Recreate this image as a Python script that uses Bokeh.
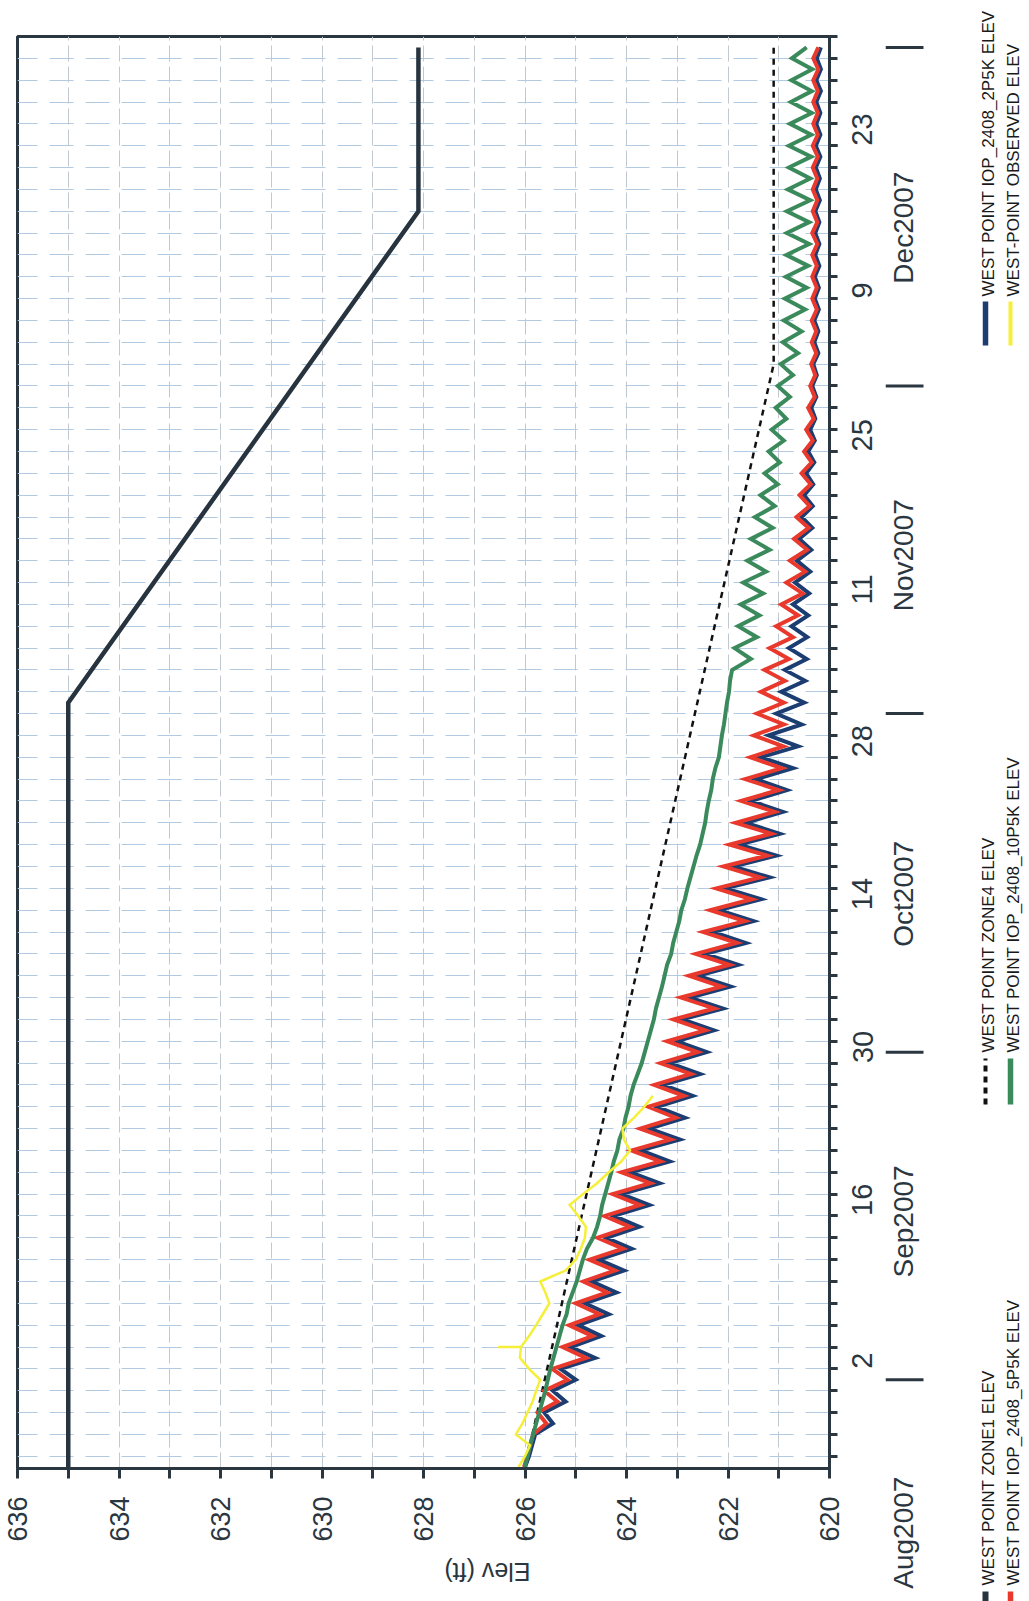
import math
import pandas as pd
from bokeh.plotting import figure
from bokeh.models import Range1d, FixedTicker
from bokeh.layouts import row, column
from bokeh.embed import file_html
from bokeh.resources import INLINE
from bokeh.core.properties import value

# ---------------------------------------------------------------- data
START = pd.Timestamp("2007-08-24")
daily = pd.date_range("2007-08-24", "2008-01-01", freq="D")

# guide curves (break points)
zone1_dates = ["2007-08-24", "2007-11-02", "2007-12-17", "2008-01-01"]
zone1_elev = [635.0, 635.0, 628.1, 628.1]
zone4_dates = ["2007-08-24", "2007-12-03", "2008-01-01"]
zone4_elev = [626.0, 621.1, 621.1]

# simulated daily pool elevations, 24 Aug 2007 .. 1 Jan 2008
iop_2p5k = [
    626.00, 625.92, 625.86, 625.80,
    625.45, 625.62, 625.20, 625.45, 625.00, 625.30,
    624.62, 625.10, 624.50, 624.95, 624.35, 624.82, 624.20, 624.68, 624.05, 624.55,
    623.90, 624.40, 623.75, 624.25, 623.55, 624.10, 623.35, 623.92, 623.15, 623.72,
    622.95, 623.55, 622.85, 623.40, 622.70, 623.28, 622.55, 623.15, 622.42, 623.02,
    622.28, 622.90, 622.10, 622.75, 621.95, 622.60, 621.80, 622.45, 621.65, 622.30,
    621.50, 622.18, 621.35, 622.05, 621.18, 621.90, 621.05, 621.78, 620.98, 621.65,
    620.92, 621.55, 620.84, 621.45, 620.72, 621.35, 620.62, 621.20, 620.55, 621.05,
    620.50, 620.95, 620.48, 620.88, 620.45, 620.80, 620.44, 620.75, 620.42, 620.72,
    620.40, 620.68, 620.38, 620.64, 620.36, 620.60, 620.34, 620.55, 620.33, 620.50,
    620.32, 620.46, 620.30, 620.42, 620.29, 620.38, 620.28, 620.36, 620.26, 620.34,
    620.25, 620.32, 620.22, 620.30, 620.22, 620.30, 620.21, 620.29, 620.21, 620.29,
    620.20, 620.28, 620.20, 620.28, 620.20, 620.28, 620.19, 620.27, 620.19, 620.27,
    620.18, 620.27, 620.18, 620.26, 620.18, 620.26, 620.17, 620.26, 620.17, 620.25,
    620.17,
]
iop_5p5k = [
    626.02, 625.95, 625.90, 625.84,
    625.58, 625.75, 625.36, 625.62, 625.16, 625.46,
    624.80, 625.26, 624.67, 625.13, 624.53, 625.00, 624.38, 624.85, 624.23, 624.73,
    624.07, 624.57, 623.93, 624.43, 623.73, 624.27, 623.53, 624.10, 623.33, 623.90,
    623.13, 623.73, 623.03, 623.57, 622.87, 623.45, 622.73, 623.33, 622.60, 623.20,
    622.45, 623.07, 622.27, 622.93, 622.13, 622.77, 621.97, 622.63, 621.83, 622.49,
    621.67, 622.35, 621.53, 622.23, 621.37, 622.09, 621.23, 621.97, 621.15, 621.85,
    621.08, 621.74, 621.00, 621.66, 620.94, 621.56, 620.91, 621.49, 620.90, 621.43,
    620.90, 621.35, 620.88, 621.28, 620.80, 621.18, 620.72, 621.05, 620.62, 620.95,
    620.53, 620.85, 620.48, 620.78, 620.44, 620.70, 620.41, 620.65, 620.39, 620.59,
    620.37, 620.55, 620.35, 620.50, 620.33, 620.46, 620.31, 620.42, 620.29, 620.38,
    620.28, 620.36, 620.26, 620.35, 620.26, 620.35, 620.25, 620.34, 620.25, 620.34,
    620.25, 620.34, 620.24, 620.34, 620.24, 620.33, 620.24, 620.33, 620.24, 620.33,
    620.23, 620.33, 620.23, 620.32, 620.23, 620.32, 620.23, 620.32, 620.22, 620.32,
    620.22,
]
iop_10p5k = [
    626.00, 625.95, 625.90, 625.84, 625.78, 625.72, 625.66, 625.60, 625.55, 625.50,
    625.44, 625.38, 625.32, 625.26, 625.18, 625.14, 625.06, 624.98, 624.92, 624.86,
    624.78, 624.66, 624.58, 624.52, 624.48, 624.42, 624.36, 624.30, 624.25, 624.18,
    624.14, 624.06, 624.02, 623.96, 623.92, 623.86, 623.78, 623.70, 623.64, 623.58,
    623.52, 623.46, 623.42, 623.36, 623.30, 623.25, 623.20, 623.12, 623.08, 623.02,
    622.96, 622.92, 622.85, 622.80, 622.74, 622.68, 622.62, 622.55, 622.50, 622.45,
    622.42, 622.38, 622.33, 622.30, 622.25, 622.18, 622.15, 622.12, 622.08, 622.05,
    622.02, 621.98, 621.96, 621.92, 621.55, 621.87, 621.43, 621.80, 621.38, 621.75,
    621.31, 621.70, 621.25, 621.62, 621.18, 621.55, 621.12, 621.47, 621.08, 621.36,
    621.02, 621.28, 620.98, 621.20, 620.90, 621.14, 620.85, 621.06, 620.78, 621.02,
    620.72, 620.96, 620.62, 620.92, 620.55, 620.90, 620.48, 620.88, 620.45, 620.86,
    620.42, 620.85, 620.40, 620.84, 620.40, 620.84, 620.38, 620.82, 620.38, 620.80,
    620.36, 620.80, 620.36, 620.78, 620.35, 620.76, 620.35, 620.75, 620.34, 620.74,
    620.45,
]

# observed pool elevation (record ends late September)
obs_dates = [
    "2007-08-24", "2007-08-25", "2007-08-26", "2007-08-27", "2007-08-28",
    "2007-08-29", "2007-08-30", "2007-08-31", "2007-09-01", "2007-09-02",
    "2007-09-03", "2007-09-04", "2007-09-04", "2007-09-04", "2007-09-05",
    "2007-09-06", "2007-09-07", "2007-09-08", "2007-09-09", "2007-09-10",
    "2007-09-11", "2007-09-12", "2007-09-13", "2007-09-14", "2007-09-15",
    "2007-09-16", "2007-09-17", "2007-09-18", "2007-09-19", "2007-09-20",
    "2007-09-21", "2007-09-22", "2007-09-23", "2007-09-24", "2007-09-25",
    "2007-09-26", "2007-09-27",
]
obs_elev = [
    626.13, 626.00, 625.90, 626.18, 626.05,
    625.95, 625.85, 625.78, 625.70, 625.92,
    626.10, 626.08, 626.53, 626.08, 625.92,
    625.78, 625.65, 625.52, 625.60, 625.70,
    625.20, 625.00, 624.90, 624.82, 624.80,
    624.95, 625.12, 624.86, 624.58, 624.35,
    624.10, 623.93, 624.05, 624.08, 623.85,
    623.65, 623.48,
]

# axis annotation
elev_ticks = [620, 622, 624, 626, 628, 630, 632, 634, 636]
elev_minor = [621, 623, 625, 627, 629, 631, 633, 635]
day_tick_dates = ["2007-09-02", "2007-09-16", "2007-09-30", "2007-10-14", "2007-10-28",
                  "2007-11-11", "2007-11-25", "2007-12-09", "2007-12-23"]
day_tick_labels = ["2", "16", "30", "14", "28", "11", "25", "9", "23"]
month_starts = ["2007-09-01", "2007-10-01", "2007-11-01", "2007-12-01", "2008-01-01"]
month_label_dates = ["2007-08-18 00:00", "2007-09-15 12:00", "2007-10-15 12:00",
                     "2007-11-15 12:00", "2007-12-15 12:00"]
month_labels = ["Aug2007", "Sep2007", "Oct2007", "Nov2007", "Dec2007"]

series = [
    # name, color, width, dash
    ("WEST POINT ZONE1 ELEV", "#27343f", 4.5, "solid"),
    ("WEST POINT IOP_2408_5P5K ELEV", "#e8392c", 4, "solid"),
    ("WEST POINT ZONE4 ELEV", "#111111", 2.5, "6 5"),
    ("WEST POINT IOP_2408_10P5K ELEV", "#3b8a5c", 4, "solid"),
    ("WEST POINT IOP_2408_2P5K ELEV", "#1c3d72", 4, "solid"),
    ("WEST-POINT OBSERVED ELEV", "#f6ef3a", 2.5, "solid"),
]


def to_day(t):
    """Days elapsed since the start of the plotted period."""
    return list((pd.to_datetime(t) - START) / pd.Timedelta(days=1))


def to_day1(t):
    return (pd.Timestamp(t) - START) / pd.Timedelta(days=1)


INK = "#2a3640"
FONT = "Liberation Sans"
NBSP = "\u00a0"

# page geometry
PAGE_W, PAGE_H = 1029, 1601
LEFT, TOP, FRAME_W, FRAME_H, RIGHT, BOTTOM = 17, 36, 812, 1432, 56, 133
Y_LO, Y_HI = to_day1("2007-08-23 21:00"), to_day1("2008-01-02 00:00")
PX_PER_DAY = FRAME_H / (Y_HI - Y_LO)

day_all = to_day(daily)

# ---------------------------------------------------------------- main plot (drawn turned a quarter turn)
p = figure(
    x_range=Range1d(636, 620),
    y_range=Range1d(Y_LO, Y_HI),
    frame_width=FRAME_W, frame_height=FRAME_H,
    min_border_left=LEFT, min_border_top=TOP, min_border_right=RIGHT, min_border_bottom=BOTTOM,
    x_axis_location="below", y_axis_location="right",
    output_backend="svg", toolbar_location=None,
    background_fill_color="white", border_fill_color="white",
)
p.outline_line_color = INK
p.outline_line_width = 3

# grid
p.xgrid.ticker = FixedTicker(ticks=list(range(621, 636)))
p.xgrid.grid_line_color = "#c2c8cf"
p.xgrid.grid_line_width = 1
p.xgrid.grid_line_dash = "16 5"
p.ygrid.ticker = FixedTicker(ticks=list(range(1, 131, 2)))
p.ygrid.grid_line_color = "#b2cbe2"
p.ygrid.grid_line_width = 1
p.ygrid.grid_line_dash = "24 12"

# elevation axis; its title reads upside down with the turned chart and sits
# between the 628 and 626 labels, hence the padding on its trailing end
xa = p.xaxis[0]
xa.ticker = FixedTicker(ticks=elev_ticks, minor_ticks=elev_minor)
xa.axis_line_color = INK
xa.axis_line_width = 3
xa.major_tick_in = 0
xa.major_tick_out = 10
xa.minor_tick_in = 0
xa.minor_tick_out = 10
xa.major_tick_line_width = 3
xa.minor_tick_line_width = 3
xa.major_tick_line_color = INK
xa.minor_tick_line_color = INK
xa.major_label_orientation = math.pi / 2
xa.major_label_text_font = FONT
xa.major_label_text_font_size = "27px"
xa.major_label_text_color = INK
xa.major_label_standoff = 18
xa.axis_label = "Elev (ft)" + NBSP * 3
xa.axis_label_text_font = FONT
xa.axis_label_text_font_style = "normal"
xa.axis_label_text_font_size = "25px"
xa.axis_label_text_color = INK
xa.axis_label_standoff = 27
if hasattr(xa, "axis_label_orientation"):
    xa.axis_label_orientation = math.pi

# day axis
ya = p.yaxis[0]
day_ticks = to_day(day_tick_dates)
ya.ticker = FixedTicker(ticks=day_ticks, minor_ticks=list(range(1, 132, 2)))
ya.major_label_overrides = {t: s for t, s in zip(day_ticks, day_tick_labels)}
ya.axis_line_color = INK
ya.axis_line_width = 3
ya.major_tick_in = 0
ya.major_tick_out = 8
ya.minor_tick_in = 0
ya.minor_tick_out = 8
ya.major_tick_line_width = 3
ya.minor_tick_line_width = 3
ya.major_tick_line_color = INK
ya.minor_tick_line_color = INK
ya.major_label_orientation = math.pi / 2
ya.major_label_text_font = FONT
ya.major_label_text_font_size = "29px"
ya.major_label_text_color = INK
ya.major_label_standoff = 25

# series
style = {name: (c, w, d) for name, c, w, d in series}


def draw(name, xs, ys):
    c, w, d = style[name]
    p.line(xs, ys, line_color=c, line_width=w, line_dash=d, line_join="miter")


draw("WEST POINT ZONE1 ELEV", zone1_elev, to_day(zone1_dates))
draw("WEST POINT ZONE4 ELEV", zone4_elev, to_day(zone4_dates))
draw("WEST POINT IOP_2408_2P5K ELEV", iop_2p5k, day_all)
draw("WEST POINT IOP_2408_5P5K ELEV", iop_5p5k, day_all)
draw("WEST POINT IOP_2408_10P5K ELEV", iop_10p5k, day_all)
draw("WEST-POINT OBSERVED ELEV", obs_elev, to_day(obs_dates))

# ---------------------------------------------------------------- month row and legend strip
STRIP_W = PAGE_W - (LEFT + FRAME_W + RIGHT)
strip = figure(
    width=STRIP_W, height=PAGE_H,
    x_range=Range1d(0, STRIP_W),
    y_range=Range1d(Y_LO - BOTTOM / PX_PER_DAY, Y_HI + TOP / PX_PER_DAY),
    min_border=0, min_border_left=0, min_border_right=0, min_border_top=0, min_border_bottom=0,
    x_axis_location=None, y_axis_location=None,
    output_backend="svg", toolbar_location=None, outline_line_color=None,
    background_fill_color="white", border_fill_color="white",
)
strip.grid.visible = False
strip.extra_y_ranges = {"page": Range1d(PAGE_H, 0)}

# month separators and month names
sep_days = to_day(month_starts)
strip.segment(x0=[0] * len(sep_days), y0=sep_days, x1=[38] * len(sep_days), y1=sep_days,
              line_color=INK, line_width=3)
strip.text(x=[18] * len(month_labels), y=to_day(month_label_dates), text=month_labels,
           angle=math.pi / 2, text_align="center", text_baseline="middle",
           text_font=value(FONT), text_font_size="28px", text_color=INK)

# legend, two columns reading bottom to top
col_x = [103, 128]
rows_y = [(1640, 1591, 1585), (1104, 1058, 1052), (345, 301, 296)]
slots = [(0, 0), (1, 0), (0, 1), (1, 1), (0, 2), (1, 2)]
for (name, c, w, d), (ci, ri) in zip(series, slots):
    y_a, y_b, y_t = rows_y[ri]
    strip.segment(x0=[col_x[ci] - 3], y0=[y_a], x1=[col_x[ci] - 3], y1=[y_b],
                  line_color=c, line_width=w + 1.5, line_dash=d, y_range_name="page")
    strip.text(x=[col_x[ci]], y=[y_t], text=[name], angle=math.pi / 2,
               text_align="left", text_baseline="middle", text_color="#1a1a1a",
               text_font=value(FONT), text_font_size="17px", y_range_name="page")

layout = row(p, column(strip))
open("out.html", "w").write(file_html(layout, INLINE))
